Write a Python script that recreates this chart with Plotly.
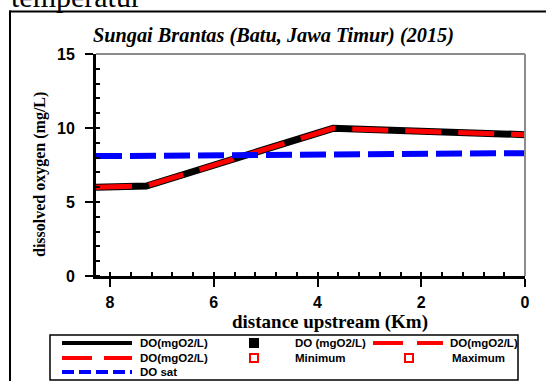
import plotly.graph_objects as go

# ---------------- data ----------------
dist_km = [8.27, 7.3, 3.7, 0.0]
do_mgl = [6.0, 6.08, 9.98, 9.55]
do_sat = [8.1, 8.13, 8.23, 8.3]

x_ticks = [0, 2, 4, 6, 8]
y_ticks = [0, 5, 10, 15]

legend_labels = ["DO(mgO2/L)", "DO (mgO2/L)", "DO(mgO2/L)",
                 "DO(mgO2/L)", "Minimum", "Maximum",
                 "DO sat"]

title_text = "Sungai Brantas (Batu, Jawa Timur) (2015)"
x_title = "distance upstream (Km)"
y_title = "dissolved oxygen (mg/L)"
top_text = "temperatur"

# ---------------- geometry ----------------
W, H = 546, 381
L, R, T, B = 96, 525, 54, 276


def px(x):
    return (x - L) / (R - L)


def py(y):
    return (B - y) / (B - T)


SERIF = "Liberation Serif"
SANS = "Liberation Sans"

fig = go.Figure()

fig.add_trace(go.Scatter(x=dist_km, y=do_mgl, mode="lines",
                         line=dict(color="black", width=7), showlegend=False,
                         hoverinfo="skip"))
fig.add_trace(go.Scatter(x=dist_km, y=do_mgl, mode="lines",
                         line=dict(color="#ff0000", width=5, dash="36px,17px"),
                         showlegend=False, hoverinfo="skip"))
fig.add_trace(go.Scatter(x=dist_km, y=do_sat, mode="lines",
                         line=dict(color="#0000ff", width=6, dash="26px,8px"),
                         showlegend=False, hoverinfo="skip"))

xr = [8.27, 0]
yr = [0, 15]

fig.update_layout(
    width=W, height=H,
    autosize=False,
    margin=dict(l=L, r=W - R, t=T, b=H - B, autoexpand=False),
    paper_bgcolor="white", plot_bgcolor="white",
    showlegend=False,
    xaxis=dict(range=xr, tickvals=x_ticks, ticks="outside", ticklen=8, tickwidth=2,
               tickcolor="black", showline=True, linecolor="black", linewidth=3,
               showgrid=False, zeroline=False, ticklabelstandoff=2, automargin=False,
               tickfont=dict(family=SANS, size=16, color="black", weight="bold"),
               minor=dict(dtick=0.4, tick0=0, ticks="inside", ticklen=4, tickwidth=2,
                          tickcolor="black", showgrid=False)),
    yaxis=dict(range=yr, tickvals=y_ticks, ticks="outside", ticklen=8, tickwidth=2,
               tickcolor="black", showline=True, linecolor="black", linewidth=3,
               showgrid=False, zeroline=False, ticklabelstandoff=7, automargin=False,
               tickfont=dict(family=SANS, size=16, color="black", weight="bold"),
               minor=dict(dtick=1, tick0=0, ticks="inside", ticklen=4, tickwidth=2,
                          tickcolor="black", showgrid=False)),
    xaxis2=dict(range=xr, overlaying="x", anchor="y", side="bottom", tickvals=x_ticks,
                ticks="inside", ticklen=6, tickwidth=2, tickcolor="black", automargin=False,
                showticklabels=False, showline=False, showgrid=False, zeroline=False),
    yaxis2=dict(range=yr, overlaying="y", anchor="x", side="left", tickvals=y_ticks,
                ticks="inside", ticklen=6, tickwidth=2, tickcolor="black", automargin=False,
                showticklabels=False, showline=False, showgrid=False, zeroline=False),
)

shapes = []
annotations = []

# outer frame (top and left edges; the rest lies beyond the visible page)
shapes.append(dict(type="line", xref="paper", yref="paper",
                   x0=px(9), x1=px(W), y0=py(11.5), y1=py(11.5),
                   line=dict(color="black", width=2)))
shapes.append(dict(type="line", xref="paper", yref="paper",
                   x0=px(10), x1=px(10), y0=py(10.5), y1=py(H),
                   line=dict(color="black", width=2)))
# gray top and right frame of plot area
shapes.append(dict(type="line", xref="paper", yref="paper", x0=0, x1=1, y0=1, y1=1,
                   line=dict(color="#8c8c8c", width=2)))
shapes.append(dict(type="line", xref="paper", yref="paper", x0=1, x1=1, y0=0, y1=1,
                   line=dict(color="#8c8c8c", width=2)))

# titles
annotations.append(dict(text=title_text, xref="paper", yref="paper", x=px(91), y=py(36),
                        xanchor="left", yanchor="middle", showarrow=False,
                        font=dict(family=SERIF, size=20.3, color="black", weight="bold",
                                  style="italic")))
annotations.append(dict(text=x_title, xref="paper", yref="paper", x=px(330), y=py(322),
                        xanchor="center", yanchor="middle", showarrow=False,
                        font=dict(family=SERIF, size=19, color="black", weight="bold")))
annotations.append(dict(text=y_title, xref="paper", yref="paper", x=px(40), y=py(175),
                        xanchor="center", yanchor="middle", showarrow=False, textangle=-90,
                        font=dict(family=SERIF, size=16, color="black", weight="bold")))
annotations.append(dict(text=top_text, xref="paper", yref="paper", x=px(9), y=py(15),
                        xanchor="left", yanchor="bottom", showarrow=False,
                        font=dict(family=SERIF, size=30, color="black")))

# ---------------- custom legend ----------------
shapes.append(dict(type="rect", xref="paper", yref="paper",
                   x0=px(50), x1=px(518), y0=py(335), y1=py(380),
                   line=dict(color="black", width=1.5), fillcolor="white"))

rows = [343, 358, 372]
entries = [
    # (label, kind, color, dash, row, sample_x0, text_x)
    (legend_labels[0], "line", "black", "solid", 0, 62, 138),
    (legend_labels[1], "fsq", "black", None, 0, 218, 293),
    (legend_labels[2], "line", "#ff0000", "30px,14px", 0, 373, 448),
    (legend_labels[3], "line", "#ff0000", "30px,12px", 1, 62, 138),
    (legend_labels[4], "osq", "#ff0000", None, 1, 218, 293),
    (legend_labels[5], "osq", "#ff0000", None, 1, 373, 450),
    (legend_labels[6], "line", "#0000ff", "12px,5px", 2, 62, 138),
]
for label, kind, color, dash, r, sx, tx in entries:
    yc = rows[r]
    if kind == "line":
        shapes.append(dict(type="line", xref="paper", yref="paper",
                           x0=px(sx), x1=px(sx + 70), y0=py(yc), y1=py(yc),
                           line=dict(color=color, width=4, dash=dash)))
    else:
        cx = sx + 36
        filled = kind == "fsq"
        shapes.append(dict(type="rect", xref="paper", yref="paper",
                           x0=px(cx - 4), x1=px(cx + 4), y0=py(yc - 4), y1=py(yc + 4),
                           line=dict(color=color, width=2),
                           fillcolor=color if filled else "white"))
    annotations.append(dict(text=label, xref="paper", yref="paper", x=px(tx), y=py(yc),
                            xanchor="left", yanchor="middle", showarrow=False,
                            font=dict(family=SANS, size=11.5, color="black", weight="bold")))

fig.update_layout(shapes=shapes, annotations=annotations)
fig.write_html("out.html")
